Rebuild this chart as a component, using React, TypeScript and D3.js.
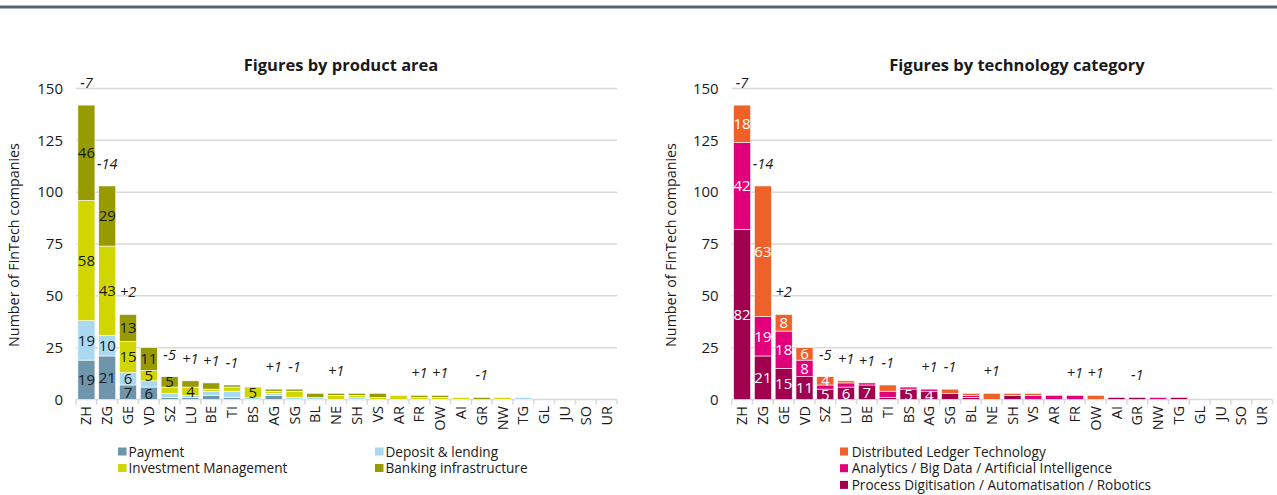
import React from "react";
import * as d3 from "d3";

const cantons = ["ZH","ZG","GE","VD","SZ","LU","BE","TI","BS","AG","SG","BL","NE","SH","VS","AR","FR","OW","AI","GR","NW","TG","GL","JU","SO","UR"];

// Left chart: product area
const payment =    [19,21,7,6,1,1,2,1,0,2,0,0,0,0,0,0,0,0,0,0,0,0,0,0,0,0];
const deposit =    [19,10,6,3,2,1,2,3,1,1,1,1,0,1,0,0,0,0,0,0,0,1,0,0,0,0];
const investment = [58,43,15,5,3,4,1,2,5,1,3,0,2,1,1,2,1,1,1,0,1,0,0,0,0,0];
const banking =    [46,29,13,11,5,3,3,1,0,1,1,2,1,1,2,0,1,1,0,1,0,0,0,0,0,0];

// Right chart: technology category
const process =   [82,21,15,11,5,6,7,1,5,4,3,1,0,2,0,0,0,0,1,1,0,1,0,0,0,0];
const analytics = [42,19,18,8,2,2,1,3,1,1,0,1,0,0,2,2,2,0,0,0,1,0,0,0,0,0];
const dlt =       [18,63,8,6,4,1,0,3,0,0,2,1,3,1,1,0,0,2,0,0,0,0,0,0,0,0];

const changes = ["-7","-14","+2","","-5","+1","+1","-1","","+1","-1","","+1","","","","+1","+1","","-1","","","","","",""];

const yTicks = [0,25,50,75,100,125,150];

const leftSeries = [
  { name: "Payment", values: payment, color: "#6f95aa" },
  { name: "Deposit & lending", values: deposit, color: "#a8d9f0" },
  { name: "Investment Management", values: investment, color: "#d1d600" },
  { name: "Banking infrastructure", values: banking, color: "#979b00" },
];
const rightSeries = [
  { name: "Process Digitisation / Automatisation / Robotics", values: process, color: "#a1004f" },
  { name: "Analytics / Big Data / Artificial Intelligence", values: analytics, color: "#e1007a" },
  { name: "Distributed Ledger Technology", values: dlt, color: "#f0612a" },
];

const FONT = "'Open Sans', 'Noto Sans', sans-serif";

type Series = { name: string; values: number[]; color: string };

function StackChart({ series, x0, x1, title, titleX, labelColor, axisTitleX }: {
  series: Series[]; x0: number; x1: number; title: string; titleX: number; labelColor: string; axisTitleX: number;
}) {
  const x = d3.scaleBand<string>().domain(cantons).range([x0, x1]).paddingInner(0.18).paddingOuter(0.09);
  const y = d3.scaleLinear().domain([0, 150]).range([399.5, 88.5]);
  const data = cantons.map((c, i) => {
    const o: any = { c };
    series.forEach((s, k) => (o["s" + k] = s.values[i]));
    return o;
  });
  const stack = d3.stack<any>().keys(series.map((_, k) => "s" + k));
  const layers = stack(data);
  const totals = cantons.map((_, i) => d3.sum(series, (s) => s.values[i]));
  const step = x.step();
  return (
    <g>
      <text x={titleX} y={71} textAnchor="middle" fontSize={16.5} fontWeight="bold" fill="#1a1a1a">{title}</text>
      {yTicks.map((t) => (
        <g key={t}>
          <line x1={x0} x2={x1} y1={y(t)} y2={y(t)} stroke="#d9d9d9" strokeWidth={1.5} />
          <text x={x0 - 13} y={y(t)} dy="0.35em" textAnchor="end" fontSize={15} fill="#1a1a1a">{t}</text>
        </g>
      ))}
      {cantons.map((c, i) => (
        <line key={c} x1={x0 + i * step} x2={x0 + i * step} y1={y(0)} y2={y(0) + 5} stroke="#d9d9d9" strokeWidth={1.5} />
      ))}
      <line x1={x1} x2={x1} y1={y(0)} y2={y(0) + 5} stroke="#d9d9d9" strokeWidth={1.5} />
      <text transform={`translate(${axisTitleX},245) rotate(-90)`} textAnchor="middle" fontSize={14.3} fill="#1a1a1a">Number of FinTech companies</text>
      {layers.map((layer, k) => (
        <g key={k}>
          {layer.map((d, i) => {
            const v = d[1] - d[0];
            if (v <= 0) return null;
            return (
              <rect key={i} x={x(cantons[i])} width={x.bandwidth()} y={y(d[1])} height={y(d[0]) - y(d[1])}
                fill={series[k].color} stroke="#ffffff" strokeWidth={0.6} />
            );
          })}
        </g>
      ))}
      {layers.map((layer, k) => (
        <g key={"l" + k}>
          {layer.map((d, i) => {
            const v = d[1] - d[0];
            if (v < 4) return null;
            return (
              <text key={i} x={(x(cantons[i]) as number) + x.bandwidth() / 2} y={(y(d[0]) + y(d[1])) / 2} dy="0.36em"
                textAnchor="middle" fontSize={15} fill={labelColor}>{v}</text>
            );
          })}
        </g>
      ))}
      {changes.map((ch, i) => ch ? (
        <text key={"c" + i} x={(x(cantons[i]) as number) + x.bandwidth() / 2} y={y(totals[i]) - 17}
          textAnchor="middle" fontSize={14.5} fontStyle="italic" fill="#1a1a1a">{ch}</text>
      ) : null)}
      {cantons.map((c) => (
        <text key={"x" + c} transform={`translate(${(x(c) as number) + x.bandwidth() / 2},406) rotate(-90)`} dy="0.35em"
          textAnchor="end" fontSize={14.5} fill="#1a1a1a">{c}</text>
      ))}
    </g>
  );
}

export default function App() {
  const leftLegend = [
    { s: leftSeries[0], x: 118, y: 456.5 },
    { s: leftSeries[1], x: 375, y: 456.5 },
    { s: leftSeries[2], x: 118, y: 473 },
    { s: leftSeries[3], x: 375, y: 473 },
  ];
  const rightLegend = [rightSeries[2], rightSeries[1], rightSeries[0]];
  return (
    <svg width={1277} height={495} style={{ position: "absolute", left: 0, top: 0, fontFamily: FONT }}>
      <rect width={1277} height={495} fill="#ffffff" />
      <line x1={0} x2={1277} y1={7} y2={7} stroke="#4f6672" strokeWidth={3} />
      <StackChart series={leftSeries} x0={76} x1={617} title="Figures by product area" titleX={341} labelColor="#1a1a1a" axisTitleX={19} />
      <StackChart series={rightSeries} x0={731.7} x1={1272.5} title="Figures by technology category" titleX={1017} labelColor="#ffffff" axisTitleX={676} />
      {leftLegend.map((l) => (
        <g key={l.s.name}>
          <rect x={l.x} y={l.y - 9} width={8.5} height={8} fill={l.s.color} />
          <text x={l.x + 10.5} y={l.y} fontSize={13.6} fill="#1a1a1a">{l.s.name}</text>
        </g>
      ))}
      {rightLegend.map((s, i) => (
        <g key={s.name}>
          <rect x={840} y={456.5 + i * 16.7 - 9} width={8} height={8} fill={s.color} />
          <text x={851.7} y={456.5 + i * 16.7} fontSize={13.6} fill="#1a1a1a">{s.name}</text>
        </g>
      ))}
    </svg>
  );
}
